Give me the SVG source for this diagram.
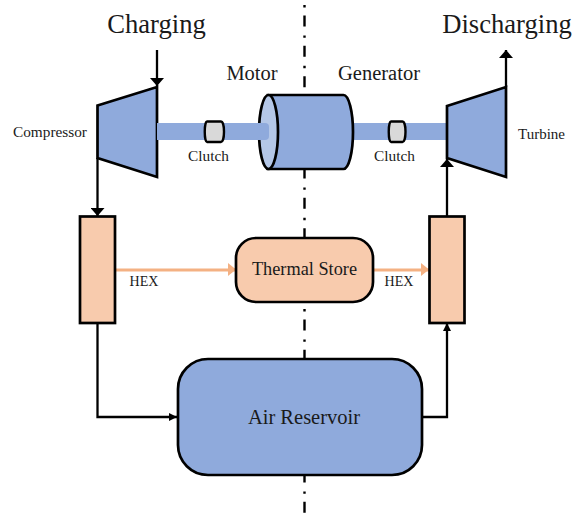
<svg xmlns="http://www.w3.org/2000/svg" width="573" height="515" viewBox="0 0 573 515">
<style>
text{font-family:"Liberation Serif","Times New Roman",serif;fill:#1a1a1a}
.m{text-anchor:middle}
.s{stroke:#000;stroke-width:2.7;stroke-linejoin:miter}
.b{fill:#8faadc}
.o{fill:#f8cbad}
.c{fill:none;stroke:#000;stroke-width:2.3}
.h{fill:none;stroke:#f4b183;stroke-width:3}
.cl{fill:#d9d9d9;stroke:#000;stroke-width:2.4}
</style>
<defs>
<marker id="a" markerUnits="userSpaceOnUse" markerWidth="14" markerHeight="14" refX="8" refY="7" orient="auto" viewBox="0 0 14 14"><path d="M0,0L8,7L0,14Z" fill="#000"/></marker>
<marker id="sm" markerUnits="userSpaceOnUse" markerWidth="8" markerHeight="8" refX="8" refY="4" orient="auto" viewBox="0 0 8 8"><path d="M0,0L8,4L0,8Z" fill="#000"/></marker>
<marker id="or" markerUnits="userSpaceOnUse" markerWidth="9" markerHeight="14" refX="8" refY="7" orient="auto" viewBox="0 0 9 14"><path d="M0,0L8,6.500L0,13Z" fill="#f4b183"/></marker>
</defs>

<line id="centerline" x1="304.500" y1="5" x2="304.500" y2="515" stroke="#000" stroke-width="2.400" stroke-dasharray="2.400 8 11 9"/>

<g id="connectors">
<path class="c" d="M157,50V86" marker-end="url(#a)"/>
<path class="c" d="M97.500,158V216" marker-end="url(#a)"/>
<path class="c" d="M97.500,323V417H177" marker-end="url(#sm)"/>
<path class="c" d="M422,417H447V323" marker-end="url(#sm)"/>
<path class="c" d="M447,216V159" marker-end="url(#a)"/>
<path class="c" d="M506,87V50" marker-end="url(#a)"/>
<path class="h" d="M115,270H236" marker-end="url(#or)"/>
<path class="h" d="M373,270H429" marker-end="url(#or)"/>
</g>

<g id="shaft-right">
<rect class="b" x="350" y="123" width="97" height="17"/>
</g>

<g id="compressor">
<path class="s b" d="M97.500,105.500L157,87V177L97.500,158Z"/>
<text x="13" y="137" font-size="15.300">Compressor</text>
</g>
<g id="motor-generator">
<path class="s b" d="M268,95H343.500A9.500,37 0 0 1 343.500,169H268Z"/>
<ellipse class="s" cx="268.500" cy="132" rx="9.500" ry="37" fill="#b4c7e7"/>
<path class="b" d="M157,123H265Q269,123 269,127V136Q269,140 265,140H157Z"/>
<text class="m" x="252" y="80" font-size="20.500">Motor</text>
<text class="m" x="379" y="80" font-size="20.500">Generator</text>
</g>
<g id="clutch-left">
<path class="cl" d="M207,121.500H221C225,121.500 225,142 221,142H207C204,142 204,121.500 207,121.500Z"/>
<text class="m" x="208.500" y="161" font-size="15.300">Clutch</text>
</g>
<g id="clutch-right">
<path class="cl" d="M391,121.500H402.500C406.500,121.500 406.500,142 402.500,142H391C388,142 388,121.500 391,121.500Z"/>
<text class="m" x="394.500" y="161" font-size="15.300">Clutch</text>
</g>
<g id="turbine">
<path class="s b" d="M447,106L506,87V177L447,158Z"/>
<text x="518" y="139" font-size="15">Turbine</text>
</g>
<g id="hex-left">
<rect class="s o" x="80" y="216.500" width="35" height="106.500"/>
<text class="m" x="144" y="286" font-size="14">HEX</text>
</g>
<g id="hex-right">
<rect class="s o" x="429.500" y="216.500" width="35" height="106.500"/>
<text class="m" x="399" y="286" font-size="14">HEX</text>
</g>
<g id="thermal-store">
<rect class="s o" x="236" y="238" width="137" height="64" rx="20" ry="20"/>
<text class="m" x="304.500" y="275" font-size="18.300">Thermal Store</text>
</g>
<g id="air-reservoir">
<rect class="s b" x="178" y="359" width="244" height="116" rx="30" ry="30"/>
<text class="m" x="304" y="424" font-size="20.500">Air Reservoir</text>
</g>
<text id="charging" class="m" x="156.500" y="33" font-size="26.600">Charging</text>
<text id="discharging" class="m" x="507" y="33" font-size="26.600">Discharging</text>
</svg>
